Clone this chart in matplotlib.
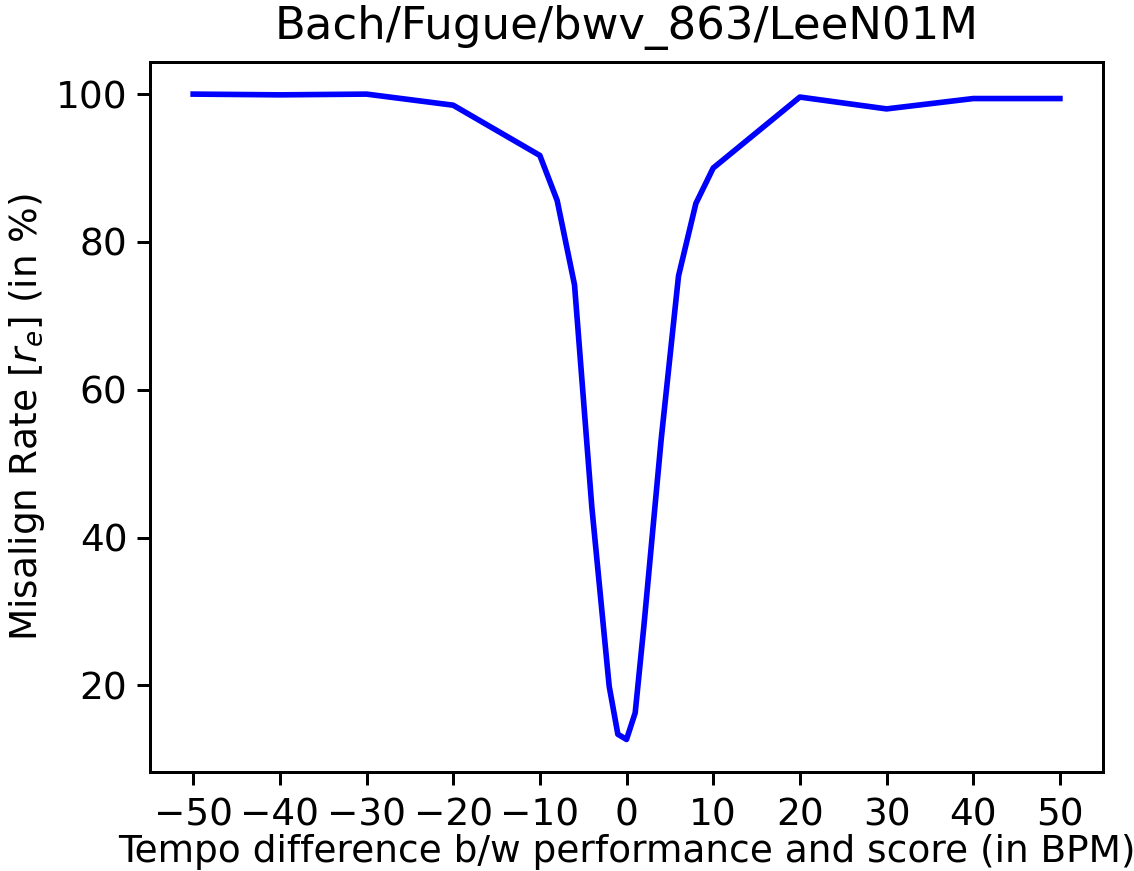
import matplotlib
matplotlib.use("Agg")
import matplotlib.pyplot as plt

tempo_diff = [-50, -40, -30, -20, -10, -8, -6, -4, -2, -1, 0, 1, 2, 4, 6, 8, 10, 20, 30, 40, 50]
misalign_rate = [100.0, 99.9, 100.0, 98.5, 91.7, 85.6, 74.2, 44.1, 19.9, 13.4, 12.7, 16.3, 28.0,
                 53.3, 75.4, 85.2, 90.0, 99.6, 98.0, 99.4, 99.4]
x_ticks = [-50, -40, -30, -20, -10, 0, 10, 20, 30, 40, 50]

DPI = 270
fig = plt.figure(figsize=(1135 / DPI, 871 / DPI), dpi=DPI)
ax = fig.add_axes([0.132, 0.114, 0.840, 0.815])
ax.plot(tempo_diff, misalign_rate, color="blue", linewidth=1.5)
ax.set_xticks(x_ticks)
ax.tick_params(axis="y", pad=2.5)
ax.set_xlabel("Tempo difference b/w performance and score (in BPM)", labelpad=0)
ax.set_ylabel("Misalign Rate [$r_e$] (in %)")
ax.yaxis.set_label_coords(-0.108, 0.5)
ax.set_title("Bach/Fugue/bwv_863/LeeN01M")
fig.savefig("out.png", dpi=DPI)
